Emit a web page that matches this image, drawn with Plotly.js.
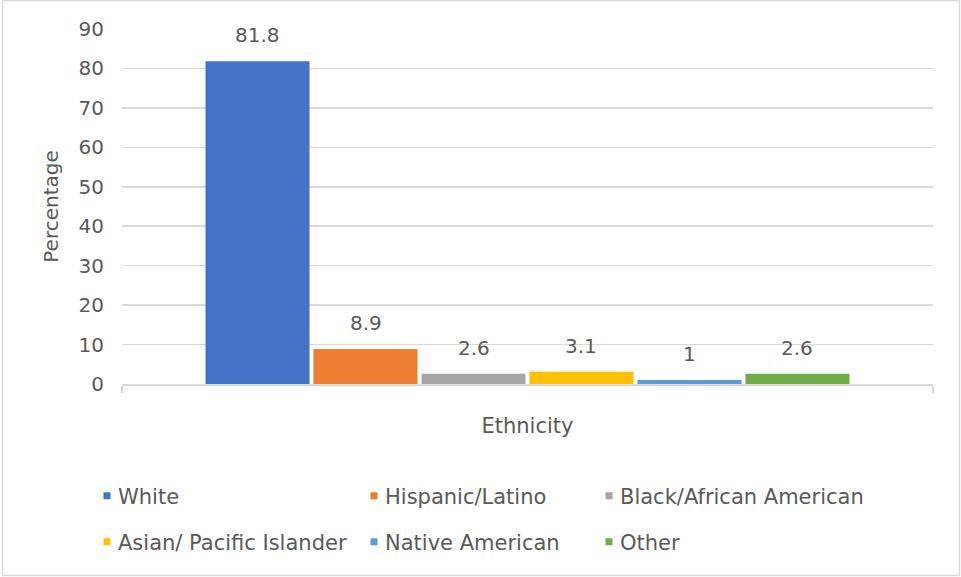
<!DOCTYPE html>
<html>
<head>
<meta charset="utf-8">
<script src="https://cdn.plot.ly/plotly-3.0.1.min.js"></script>
<style>
  html, body { margin: 0; padding: 0; background: #ffffff; }
  #chart { width: 961px; height: 577px; }
</style>
</head>
<body>
<div id="chart"></div>
<script>
// Survey respondents by ethnicity (percent)
const category = ['Ethnicity'];
const seriesNames = ['White', 'Hispanic/Latino', 'Black/African American',
                     'Asian/ Pacific Islander', 'Native American', 'Other'];
const seriesValues = [81.8, 8.9, 2.6, 3.1, 1, 2.6];
const seriesColors = ['#4472C4', '#ED7D31', '#A5A5A5', '#FFC000', '#5B9BD5', '#70AD47'];
const yTickVals = [0, 10, 20, 30, 40, 50, 60, 70, 80, 90];

const W = 961, H = 577;
const M = { l: 122, r: 28, t: 29, b: 193 };
const plotW = W - M.l - M.r;
const plotH = H - M.t - M.b;
const BARGAP = 0.201;
const BARGROUPGAP = 0.037;
const FONT = 'DejaVu Sans, Liberation Sans, sans-serif';
const TEXT = '#595959';
const GRID = '#D9D9D9';

// pixel -> paper helpers for the decorations outside the plot area
const px = x => (x - M.l) / plotW;
const py = y => (M.t + plotH - y) / plotH;

// legend slots: two rows of three columns
const legendX = [78, 345, 580];
const legendY = [496, 542];

const traces = seriesNames.map((name, i) => ({
  type: 'bar',
  name: name,
  x: category,
  y: [seriesValues[i]],
  marker: { color: seriesColors[i], line: { width: 0 } },
  hoverinfo: 'name+y',
  legend: i === 0 ? 'legend' : 'legend' + (i + 1)
}));

// value labels above each bar, shifted to the centre of its slot in the group
const slot = plotW * (1 - BARGAP) / seriesNames.length;
const labels = seriesValues.map((v, i) => ({
  x: category[0], y: v, xref: 'x', yref: 'y',
  xshift: (i - (seriesNames.length - 1) / 2) * slot,
  yshift: 12,
  yanchor: 'bottom', xanchor: 'center',
  text: String(v), showarrow: false,
  font: { family: FONT, size: 20, color: TEXT }
}));

const layout = {
  width: W, height: H,
  margin: M,
  paper_bgcolor: '#ffffff',
  plot_bgcolor: '#ffffff',
  font: { family: FONT, size: 20, color: TEXT },
  barmode: 'group',
  bargap: BARGAP,
  bargroupgap: BARGROUPGAP,
  showlegend: true,
  xaxis: {
    type: 'category',
    showticklabels: false,
    ticks: 'outside', tickson: 'boundaries', ticklen: 7,
    tickcolor: GRID, tickwidth: 1.5,
    showline: true, linecolor: GRID, linewidth: 1.5,
    showgrid: false, zeroline: false,
    title: { text: 'Ethnicity', font: { family: FONT, size: 21, color: TEXT }, standoff: 34 },
    fixedrange: true
  },
  yaxis: {
    range: [0, 90],
    tickvals: yTickVals,
    ticktext: yTickVals.map(String),
    ticks: '', ticklabelstandoff: 17,
    showgrid: true, gridcolor: GRID, gridwidth: 1.5,
    zeroline: false, showline: false,
    tickfont: { family: FONT, size: 20, color: TEXT },
    automargin: true,
    title: { text: 'Percentage', font: { family: FONT, size: 20, color: TEXT }, standoff: 14 },
    fixedrange: true
  },
  annotations: labels,
  shapes: [{
    type: 'rect', xref: 'paper', yref: 'paper', layer: 'below',
    x0: px(2.5), x1: px(959.5), y0: py(575.5), y1: py(0.5),
    line: { color: GRID, width: 1.5 }, fillcolor: 'rgba(0,0,0,0)'
  }]
};

seriesNames.forEach((name, i) => {
  const key = i === 0 ? 'legend' : 'legend' + (i + 1);
  layout[key] = {
    x: px(legendX[i % 3]), y: py(legendY[Math.floor(i / 3)]),
    xanchor: 'left', yanchor: 'middle',
    orientation: 'h',
    bgcolor: 'rgba(0,0,0,0)', borderwidth: 0,
    font: { family: FONT, size: 21, color: TEXT },
    itemclick: false, itemdoubleclick: false
  };
});

Plotly.newPlot('chart', traces, layout, { displayModeBar: false, staticPlot: true })
  .then(gd => {
    // small square swatches sitting close to the legend text
    gd.querySelectorAll('.legendpoints path').forEach(p => {
      p.setAttribute('d', 'M3.5,3.5H-3.5V-3.5H3.5Z');
      p.setAttribute('transform', 'translate(29,0)');
    });
  });
</script>
</body>
</html>
